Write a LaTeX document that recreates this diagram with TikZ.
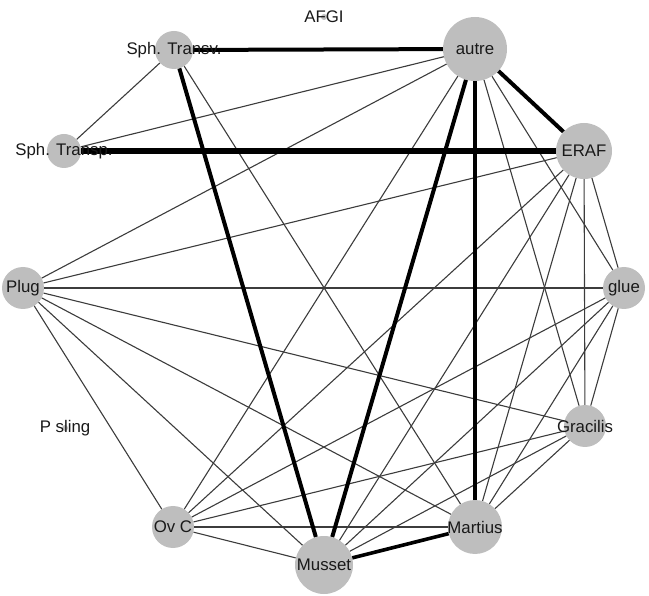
\documentclass[tikz,border=0pt]{standalone}
\usepackage{fontspec}
\setmainfont{Liberation Sans}
\definecolor{vgrey}{RGB}{190,190,190}
\definecolor{thinedge}{RGB}{60,60,60}
\definecolor{labelc}{RGB}{25,25,25}
\begin{document}
\begin{tikzpicture}[x=1pt,y=-1pt,
  vtx/.style={circle,fill=vgrey,draw=none,inner sep=0pt,minimum size=#1},
  lab/.style={font=\fontsize{16.8}{16.8}\selectfont,text=labelc,inner sep=0pt},
  thinE/.style={draw=thinedge,line width=1.1pt},
  thickE/.style={draw=black,line width=#1}]
\useasboundingbox (0,0) rectangle (649,596);
% vertices
\node[vtx=6pt]  (AFGI) at (324,17) {};
\node[vtx=38pt] (STv)  at (174,50) {};
\node[vtx=34pt] (STp)  at (64,151) {};
\node[vtx=42pt] (Plug) at (23,288) {};
\node[vtx=6pt]  (Ps)   at (65,428) {};
\node[vtx=42pt] (OvC)  at (173,527) {};
\node[vtx=58pt] (Mus)  at (324,565) {};
\node[vtx=54pt] (Mar)  at (475,527) {};
\node[vtx=42pt] (Gra)  at (585,426) {};
\node[vtx=42pt] (glue) at (624,288) {};
\node[vtx=56pt] (ERAF) at (584,151) {};
\node[vtx=64pt] (autre) at (475,49) {};
% thin edges
\foreach \a/\b in {STv/STp, STv/Mar, autre/STp, autre/Plug, autre/OvC, autre/glue, autre/Gra,
  ERAF/Plug, ERAF/OvC, ERAF/Mus, ERAF/Mar, ERAF/Gra, ERAF/glue,
  Plug/glue, Plug/Gra, Plug/OvC, Plug/Mus, Plug/Mar,
  OvC/glue, OvC/Gra, OvC/Mar, OvC/Mus,
  glue/Mus, glue/Mar, glue/Gra, Gra/Mus, Gra/Mar}
  \draw[thinE] (\a) -- (\b);
% thick edges
\draw[thickE=4pt] (STv) -- (autre);
\draw[thickE=5.5pt] (STp) -- (ERAF);
\draw[thickE=4pt] (autre) -- (ERAF);
\draw[thickE=4pt] (STv) -- (Mus);
\draw[thickE=4pt] (autre) -- (Mus);
\draw[thickE=3.6pt] (autre) -- (Mar);
\draw[thickE=3.6pt] (Mus) -- (Mar);
% labels
\node[lab] (lAFGI) at (AFGI) {AFGI};
\node[lab] (lSTv) at (STv) {Sph. Transv.};
\node[lab] (lSTp) at (STp) {Sph. Transp.};
\node[lab] (lPlug) at (Plug) {Plug};
\node[lab] (lPs) at (Ps) {P sling};
\node[lab] (lOvC) at (OvC) {Ov C};
\node[lab] (lMus) at (Mus) {Musset};
\node[lab] (lMar) at (Mar) {Martius};
\node[lab] (lGra) at (Gra) {Gracilis};
\node[lab] (lglue) at (glue) {glue};
\node[lab] (lERAF) at (ERAF) {ERAF};
\node[lab] (lautre) at (autre) {autre};
\end{tikzpicture}
\end{document}
